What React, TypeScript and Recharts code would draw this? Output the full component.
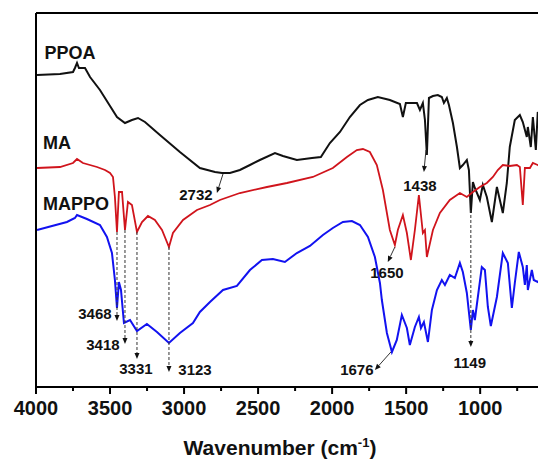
import React from 'react'
import { LineChart, Line, XAxis, YAxis, ReferenceLine, ReferenceDot } from 'recharts'

const FONT = '"Liberation Sans", Arial, sans-serif'

// [wavenumber (cm-1), transmittance (a.u.)]
const ppoa: [number, number][] = [
  [3993, 312], [3838, 313], [3750, 315], [3737, 319], [3723, 324], [3710, 319], [3669, 319],
  [3635, 310], [3568, 297], [3500, 281], [3453, 270], [3399, 264], [3352, 267], [3311, 269],
  [3264, 265], [3163, 252], [3028, 235], [2893, 219], [2791, 215], [2744, 214], [2690, 214],
  [2623, 217], [2555, 222], [2488, 227], [2386, 234], [2332, 231], [2285, 229], [2238, 227],
  [2136, 229], [2076, 230], [2015, 244], [1947, 255], [1880, 270], [1812, 282], [1758, 287],
  [1691, 290], [1610, 287], [1542, 283], [1522, 270], [1502, 284], [1427, 284], [1407, 277],
  [1387, 284], [1373, 267], [1360, 232], [1346, 289], [1319, 291], [1286, 292], [1259, 290],
  [1245, 284], [1225, 289], [1211, 282], [1184, 264], [1157, 240], [1137, 219], [1117, 222],
  [1090, 227], [1076, 217], [1063, 174], [1049, 205], [1036, 199], [1002, 187], [982, 202],
  [955, 190], [921, 165], [887, 200], [847, 174], [820, 204], [800, 240], [766, 267],
  [732, 272], [712, 265], [685, 250], [678, 260], [658, 240], [644, 270], [624, 237],
  [611, 275], [584, 257],
]

const ma: [number, number][] = [
  [3993, 219], [3838, 220], [3750, 224], [3723, 228], [3683, 224], [3588, 220], [3534, 217],
  [3500, 214], [3480, 210], [3467, 190], [3453, 155], [3440, 195], [3419, 195], [3399, 157],
  [3379, 185], [3352, 182], [3318, 155], [3284, 165], [3244, 171], [3197, 167], [3149, 157],
  [3102, 140], [3075, 154], [3007, 167], [2913, 177], [2825, 182], [2758, 187], [2623, 194],
  [2440, 200], [2305, 204], [2130, 210], [1995, 219], [1900, 230], [1833, 237], [1792, 238],
  [1745, 235], [1698, 222], [1657, 197], [1610, 157], [1576, 142], [1556, 157], [1522, 172],
  [1495, 154], [1468, 127], [1441, 157], [1414, 192], [1387, 154], [1373, 157], [1360, 130],
  [1319, 157], [1272, 174], [1205, 187], [1137, 194], [1090, 190], [1049, 195], [1002, 200],
  [955, 204], [914, 210], [881, 217], [847, 222], [800, 221], [752, 222], [732, 220],
  [712, 182], [698, 219], [664, 219], [644, 224], [611, 222], [584, 220],
]

const mappo: [number, number][] = [
  [3993, 157], [3791, 165], [3737, 169], [3723, 172], [3656, 168], [3568, 162], [3521, 150],
  [3487, 134], [3467, 107], [3453, 79], [3440, 105], [3426, 97], [3406, 64], [3365, 67],
  [3318, 56], [3251, 63], [3183, 55], [3102, 44], [3028, 54], [2940, 64], [2893, 75],
  [2825, 85], [2737, 97], [2643, 101], [2555, 117], [2474, 127], [2400, 128], [2319, 125],
  [2238, 134], [2150, 141], [2062, 152], [1995, 159], [1927, 165], [1866, 166], [1812, 162],
  [1758, 150], [1711, 130], [1677, 104], [1664, 87], [1630, 54], [1596, 35], [1563, 47],
  [1529, 72], [1495, 59], [1475, 42], [1441, 60], [1414, 70], [1400, 59], [1380, 65],
  [1353, 45], [1326, 77], [1292, 97], [1259, 107], [1238, 102], [1205, 112], [1171, 109],
  [1137, 124], [1117, 115], [1090, 94], [1063, 57], [1049, 77], [1036, 67], [989, 120],
  [968, 117], [948, 80], [928, 61], [887, 90], [847, 134], [813, 124], [786, 79],
  [766, 104], [739, 135], [712, 120], [698, 102], [685, 122], [678, 97], [651, 117],
  [638, 107], [611, 105], [584, 110],
]

const xTicks = [4000, 3750, 3500, 3250, 3000, 2750, 2500, 2250, 2000, 1750, 1500, 1250, 1000, 750]

const seriesNames = [
  { text: 'PPOA', w: 3770, t: 334 },
  { text: 'MA', w: 3858, t: 244 },
  { text: 'MAPPO', w: 3730, t: 183 },
]

// peak marks: arrow from -> to, label centre
const peaks = [
  { text: '3468', from: [3453, 155], to: [3453, 66], at: [3602, 74], dashed: true },
  { text: '3418', from: [3399, 157], to: [3399, 43], at: [3548, 43], dashed: true },
  { text: '3331', from: [3318, 155], to: [3318, 28], at: [3325, 19], dashed: true },
  { text: '3123', from: [3102, 140], to: [3102, 15], at: [2926, 18], dashed: true },
  { text: '2732', from: [2737, 213], to: [2778, 194], at: [2920, 193], dashed: false },
  { text: '1438', from: [1366, 237], to: [1380, 215], at: [1407, 202], dashed: false },
  { text: '1650', from: [1576, 140], to: [1624, 125], at: [1630, 115], dashed: false },
  { text: '1676', from: [1603, 35], to: [1711, 17], at: [1833, 18], dashed: false },
  { text: '1149', from: [1063, 177], to: [1063, 40], at: [1070, 25], dashed: true },
]

const toPoints = (pairs: [number, number][]) => pairs.map(([w, t]) => ({ w, t }))

const AxisTick = (props: any) => {
  const { x, y, payload } = props
  const major = payload.value % 500 === 0
  return (
    <g>
      <line x1={x} x2={x} y1={y} y2={y + (major ? 7 : 4)} stroke="#000" strokeWidth={2} />
      {major && (
        <text x={x} y={y + 28} textAnchor="middle" fontFamily={FONT} fontWeight="bold" fontSize={20} fill="#111">
          {payload.value}
        </text>
      )}
    </g>
  )
}

const makeArrow = (dashed: boolean) => (props: any) => {
  const { x1, y1, x2, y2 } = props
  const a = Math.atan2(y2 - y1, x2 - x1)
  const len = 6
  const half = 2.5
  const bx = x2 - len * Math.cos(a)
  const by = y2 - len * Math.sin(a)
  const pts = `${x2},${y2} ${bx - half * Math.sin(a)},${by + half * Math.cos(a)} ${bx + half * Math.sin(a)},${by - half * Math.cos(a)}`
  return (
    <g>
      <line x1={x1} y1={y1} x2={bx} y2={by} stroke="#333" strokeWidth={1} strokeDasharray={dashed ? '3 2' : undefined} />
      <polygon points={pts} fill="#111" />
    </g>
  )
}

const makeText = (text: string, size: number) => (props: any) => (
  <text x={props.cx} y={props.cy} textAnchor="middle" dominantBaseline="central"
    fontFamily={FONT} fontWeight="bold" fontSize={size} fill="#111">
    {text}
  </text>
)

const AxisTitle = () => (
  <text x={280} y={455} textAnchor="middle" fontFamily={FONT} fontWeight="bold" fontSize={21} fill="#111">
    Wavenumber (cm<tspan dy={-8} fontSize={13}>-1</tspan><tspan dy={8}>)</tspan>
  </text>
)

export default function App() {
  return (
    <div style={{ position: 'absolute', left: 0, top: 0, width: 538, height: 461, overflow: 'hidden', background: '#fff' }}>
      <LineChart width={600} height={461} margin={{ top: 13, right: 31, bottom: 14, left: 35 }}>
        <XAxis
          dataKey="w"
          type="number"
          domain={[400, 4000]}
          reversed
          allowDataOverflow
          ticks={xTicks}
          interval={0}
          tick={<AxisTick />}
          tickLine={false}
          tickSize={0}
          tickMargin={0}
          height={60}
          axisLine={{ stroke: '#000', strokeWidth: 2 }}
          label={{ content: () => <AxisTitle /> }}
        />
        <YAxis
          type="number"
          domain={[0, 374]}
          width={1}
          tick={false}
          tickLine={false}
          axisLine={{ stroke: '#000', strokeWidth: 2 }}
        />
        <ReferenceLine y={374} stroke="#000" strokeWidth={2} />
        <Line data={toPoints(ppoa)} dataKey="t" stroke="#111" strokeWidth={2} dot={false} isAnimationActive={false} />
        <Line data={toPoints(ma)} dataKey="t" stroke="#d0141c" strokeWidth={1.8} dot={false} isAnimationActive={false} />
        <Line data={toPoints(mappo)} dataKey="t" stroke="#1212f0" strokeWidth={2} dot={false} isAnimationActive={false} />
        {peaks.map((p) => (
          <ReferenceLine
            key={'a' + p.text}
            segment={[{ x: p.from[0], y: p.from[1] }, { x: p.to[0], y: p.to[1] }]}
            shape={makeArrow(p.dashed)}
          />
        ))}
        {peaks.map((p) => (
          <ReferenceDot key={'t' + p.text} x={p.at[0]} y={p.at[1]} r={0} shape={makeText(p.text, 15)} />
        ))}
        {seriesNames.map((s) => (
          <ReferenceDot key={s.text} x={s.w} y={s.t} r={0} shape={makeText(s.text, 18)} />
        ))}
      </LineChart>
    </div>
  )
}
